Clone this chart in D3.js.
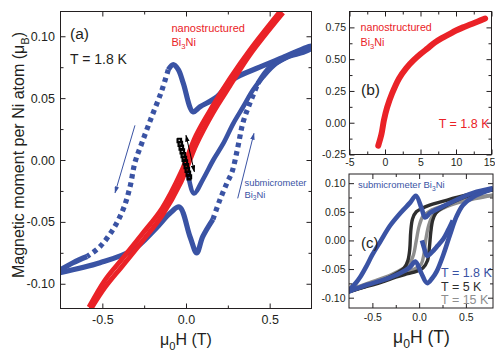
<!DOCTYPE html>
<html>
<head>
<meta charset="utf-8">
<script src="https://cdn.jsdelivr.net/npm/d3@7"></script>
<style>
  body { margin: 0; background: #fff; }
  svg { display: block; }
</style>
</head>
<body>
<div id="chart"></div>
<script>
// (a) submicrometer Bi3Ni at 1.8 K, field in T, moment in muB per Ni
const upperAH = [0.75, 0.72, 0.58, 0.44, 0.28, 0.185, 0.084, 0.042, -0.016, -0.046, -0.076, -0.106, -0.145, -0.205, -0.263, -0.305, -0.335, -0.376, -0.436, -0.514, -0.591, -0.675, -0.753];
const upperAM = [0.092, 0.091, 0.083, 0.075, 0.065, 0.051, 0.043, 0.039, 0.062, 0.073, 0.077, 0.073, 0.056, 0.035, 0.014, -0.002, -0.022, -0.040, -0.056, -0.070, -0.078, -0.083, -0.089];
const lowerAH = [-0.753, -0.514, -0.317, -0.185, -0.096, -0.04, 0.024, 0.064, 0.10, 0.161, 0.203, 0.245, 0.275, 0.31, 0.34, 0.382, 0.43, 0.502, 0.60, 0.70, 0.75];
const lowerAM = [-0.091, -0.083, -0.0726, -0.056, -0.043, -0.038, -0.062, -0.075, -0.062, -0.048, -0.032, -0.0185, -0.0097, 0.0105, 0.030, 0.046, 0.062, 0.075, 0.083, 0.087, 0.090];
const virginAH = [0.0, 0.015, 0.048, 0.10, 0.163, 0.223, 0.283, 0.342, 0.40, 0.46, 0.54, 0.65];
const virginAM = [0.0, -0.014, -0.027, -0.016, 0.0, 0.0134, 0.0296, 0.043, 0.0565, 0.067, 0.078, 0.086];
// nanostructured Bi3Ni, both sweep directions
const redAH = [-0.58, -0.484, -0.382, -0.263, -0.143, -0.03, 0.06, 0.161, 0.263, 0.382, 0.58];
const redUpM = [-0.123, -0.103, -0.086, -0.066, -0.045, -0.018, 0.012, 0.038, 0.060, 0.085, 0.119];
const redDownM = [-0.119, -0.097, -0.080, -0.060, -0.039, -0.010, 0.020, 0.044, 0.066, 0.089, 0.123];
// small black minor loop near zero field
const blackH = [-0.042, -0.036, -0.030, -0.024, -0.018, -0.012, -0.006, 0.0, 0.006, 0.012, 0.018, 0.022, 0.016, 0.010, 0.004, -0.002, -0.008, -0.014, -0.020, -0.026, -0.032, -0.038];
const blackM = [0.0155, 0.0125, 0.0095, 0.0065, 0.0035, 0.0005, -0.0025, -0.0055, -0.0085, -0.0115, -0.0145, -0.0135, -0.0105, -0.0075, -0.0045, -0.0015, 0.0015, 0.0045, 0.0075, 0.0105, 0.0135, 0.0160];
// annotation arrows (data coords)
const arrowDownH = [-0.305, -0.424], arrowDownM = [0.028, -0.0265];
const arrowUpH = [0.309, 0.406], arrowUpM = [-0.031, 0.0215];
const sweepH = [0.0, 0.05], sweepM = [0.020, -0.0095];

// (b) nanostructured Bi3Ni up to 14 T
const bH = [-0.95, -0.5, -0.15, 0.3, 1.0, 2.0, 3.0, 4.0, 5.0, 6.0, 7.0, 8.0, 9.0, 10.0, 11.0, 12.0, 13.0, 14.1];
const bM = [-0.18, -0.09, 0.02, 0.12, 0.23, 0.35, 0.43, 0.49, 0.54, 0.585, 0.63, 0.665, 0.695, 0.725, 0.75, 0.772, 0.795, 0.82];

// (c) submicrometer Bi3Ni at three temperatures
const upperCH = [0.79, 0.578, 0.40, 0.223, 0.117, 0.064, 0.028, -0.035, -0.096, -0.2, -0.31, -0.415, -0.5, -0.57, -0.63, -0.68, -0.76];
const upperCM = [0.0915, 0.083, 0.071, 0.057, 0.048, 0.040, 0.055, 0.078, 0.066, 0.048, 0.026, -0.002, -0.025, -0.047, -0.064, -0.075, -0.088];
const lowerCH = [-0.76, -0.65, -0.556, -0.38, -0.2, -0.1, -0.04, 0.02, 0.085, 0.14, 0.188, 0.259, 0.33, 0.40, 0.47, 0.578, 0.79];
const lowerCM = [-0.090, -0.083, -0.0775, -0.069, -0.057, -0.047, -0.037, -0.056, -0.0745, -0.066, -0.054, -0.025, 0.01, 0.042, 0.062, 0.076, 0.090];
const virginCH = [0.03, 0.055, 0.085, 0.14, 0.2, 0.26, 0.31, 0.36];
const virginCM = [0.0, -0.014, -0.027, -0.020, -0.009, 0.003, 0.018, 0.035];
const upper5H = [0.79, 0.6, 0.4, 0.25, 0.12, 0.03, -0.03, -0.07, -0.09, -0.1, -0.12, -0.16, -0.25, -0.4, -0.55, -0.76];
const upper5M = [0.088, 0.083, 0.075, 0.068, 0.062, 0.056, 0.050, 0.038, 0.015, -0.015, -0.035, -0.048, -0.058, -0.070, -0.079, -0.090];
const lower5H = [-0.76, -0.55, -0.4, -0.25, -0.12, -0.03, 0.04, 0.09, 0.11, 0.125, 0.145, 0.18, 0.26, 0.4, 0.55, 0.79];
const lower5M = [-0.090, -0.080, -0.073, -0.064, -0.058, -0.054, -0.048, -0.035, -0.012, 0.015, 0.035, 0.048, 0.058, 0.070, 0.079, 0.089];
const upper15H = [0.79, 0.6, 0.4, 0.25, 0.12, 0.04, 0.0, -0.03, -0.06, -0.1, -0.18, -0.3, -0.5, -0.76];
const upper15M = [0.079, 0.075, 0.068, 0.060, 0.052, 0.042, 0.025, 0.0, -0.025, -0.040, -0.050, -0.060, -0.072, -0.087];
const lower15H = [-0.76, -0.5, -0.3, -0.15, -0.05, 0.02, 0.05, 0.07, 0.1, 0.14, 0.22, 0.4, 0.6, 0.79];
const lower15M = [-0.087, -0.075, -0.065, -0.057, -0.050, -0.042, -0.025, 0.0, 0.025, 0.042, 0.053, 0.065, 0.073, 0.079];

// ticks
const aXTicks = [-0.5, 0, 0.5], aXLabels = ['-0.5', '0.0', '0.5'], aXMinor = [-0.25, 0.25];
const aYTicks = [-0.10, -0.05, 0, 0.05, 0.10], aYLabels = ['-0.10', '-0.05', '0.00', '0.05', '0.10'];
const aYMinor = [-0.075, -0.025, 0.025, 0.075];
const bXTicks = [-5, 0, 5, 10, 15], bXLabels = ['-5', '0', '5', '10', '15'], bXMinor = [-2.5, 2.5, 7.5, 12.5];
const bYTicks = [-0.25, 0, 0.25, 0.5, 0.75], bYLabels = ['-0.25', '0.00', '0.25', '0.50', '0.75'];
const bYMinor = [-0.125, 0.125, 0.375, 0.625];
const cXTicks = [-0.5, 0, 0.5], cXLabels = ['-0.5', '0.0', '0.5'], cXMinor = [-0.25, 0.25];
const cYTicks = [-0.10, -0.05, 0, 0.05, 0.10], cYLabels = ['-0.10', '-0.05', '0.00', '0.05', '0.10'];
const cYMinor = [-0.075, -0.025, 0.025, 0.075];

const ink = '#231f20';
const blue = '#3a53a4';
const red = '#ea2227';
const dark = '#2e2e2e';
const grey = '#8e8e8e';
const font = "'Liberation Sans', Arial, Helvetica, sans-serif";

const svg = d3.select('#chart').append('svg')
  .attr('width', 495)
  .attr('height', 351)
  .style('font-family', font);
const defs = svg.append('defs');

const xA = d3.scaleLinear().domain([-0.75, 0.75]).range([60.5, 311.5]);
const yA = d3.scaleLinear().domain([-0.12, 0.12]).range([308.5, 11.5]);
const xB = d3.scaleLinear().domain([-5, 15]).range([349.5, 491.5]);
const yB = d3.scaleLinear().domain([-0.25, 0.875]).range([154.5, 11.5]);
const xC = d3.scaleLinear().domain([-0.75, 0.79]).range([349, 493]);
const yC = d3.scaleLinear().domain([-0.118, 0.116]).range([308, 174]);

const pts = (H, M) => H.map((h, i) => [h, M[i]]);
const lineOf = (x, y) => d3.line().x(d => x(d[0])).y(d => y(d[1])).curve(d3.curveCatmullRom);

function marker(id, color) {
  defs.append('marker')
    .attr('id', id)
    .attr('viewBox', '0 0 10 10')
    .attr('refX', 9).attr('refY', 5)
    .attr('markerWidth', 7).attr('markerHeight', 4.5)
    .attr('markerUnits', 'userSpaceOnUse')
    .attr('preserveAspectRatio', 'none')
    .attr('orient', 'auto-start-reverse')
    .append('path')
    .attr('d', 'M0,0 L10,5 L0,10 Z')
    .attr('fill', color);
}
marker('headBlue', blue);
marker('headBlack', '#000');

function clipFor(id, x, y) {
  const [l, r] = x.range(), [b, t] = y.range();
  defs.append('clipPath').attr('id', id)
    .append('rect').attr('x', l).attr('y', t).attr('width', r - l).attr('height', b - t);
  return svg.append('g').attr('clip-path', `url(#${id})`);
}

function axes(x, y, o) {
  const g = svg.append('g');
  const [l, r] = x.range(), [b, t] = y.range();
  const put = (axis, tx, ty) => g.append('g').attr('transform', `translate(${tx},${ty})`).call(axis);
  put(d3.axisBottom(x).tickValues(o.xMinor).tickSize(-3).tickFormat(''), 0, b);
  put(d3.axisTop(x).tickValues(o.xMinor).tickSize(-3).tickFormat(''), 0, t);
  put(d3.axisLeft(y).tickValues(o.yMinor).tickSize(-3).tickFormat(''), l, 0);
  put(d3.axisRight(y).tickValues(o.yMinor).tickSize(-3).tickFormat(''), r, 0);
  put(d3.axisTop(x).tickValues(o.xTicks).tickSize(-5).tickFormat(''), 0, t);
  put(d3.axisRight(y).tickValues(o.yTicks).tickSize(-5).tickFormat(''), r, 0);
  const xb = put(d3.axisBottom(x).tickValues(o.xTicks).tickSize(-5).tickPadding(o.xPad)
    .tickFormat((d, i) => o.xLabels[i]), 0, b);
  put(d3.axisLeft(y).tickValues(o.yTicks).tickSize(-5).tickPadding(o.yPad)
    .tickFormat((d, i) => o.yLabels[i]), l, 0);
  g.selectAll('g').attr('font-family', font).attr('font-size', o.size);
  g.selectAll('.domain').remove();
  g.selectAll('.tick line').attr('stroke', ink);
  g.selectAll('.tick text').attr('fill', ink);
  // last x label sits on the page edge; keep it just inside
  if (o.lastShift) xb.selectAll('.tick text').filter((d, i, n) => i === n.length - 1).attr('dx', o.lastShift);
  g.append('rect')
    .attr('x', l).attr('y', t)
    .attr('width', r - l).attr('height', b - t)
    .attr('fill', 'none')
    .attr('stroke', ink)
    .attr('stroke-width', 1);
}

// text with subscripts: parts are strings, or [string] for a subscript
function label(x, y, parts, size, color, anchor, rotate) {
  const t = svg.append('text')
    .attr('x', x).attr('y', y)
    .attr('font-size', size)
    .attr('fill', color)
    .attr('text-anchor', anchor || 'start');
  if (rotate) t.attr('transform', `rotate(${rotate})`);
  let shift = 0;
  parts.forEach((p) => {
    const isSub = Array.isArray(p);
    const d = isSub ? size * 0.3 : 0;
    t.append('tspan')
      .attr('dy', d - shift)
      .attr('font-size', isSub ? size * 0.7 : size)
      .text(isSub ? p[0] : p);
    shift = d;
  });
  return t;
}

function branch(g, H, M, x, y, color, w, sparse) {
  const p = pts(H, M);
  const gen = lineOf(x, y);
  const pieces = sparse
    ? [[0, sparse[0], false], [sparse[0], sparse[1], true], [sparse[1], p.length - 1, false]]
    : [[0, p.length - 1, false]];
  pieces.forEach(([a, b, dashed]) => {
    g.append('path')
      .datum(p.slice(a, b + 1))
      .attr('d', gen)
      .attr('fill', 'none')
      .attr('stroke', color)
      .attr('stroke-width', w)
      .attr('stroke-linejoin', 'round')
      .attr('stroke-dasharray', dashed ? '4.5,4' : null);
  });
}

function arrow(g, H, M, x, y, color, id, both) {
  g.append('line')
    .attr('x1', x(H[0])).attr('y1', y(M[0]))
    .attr('x2', x(H[1])).attr('y2', y(M[1]))
    .attr('stroke', color)
    .attr('stroke-width', 1)
    .attr('marker-end', `url(#${id})`)
    .attr('marker-start', both ? `url(#${id})` : null);
}

// ---------- panel (a)
const gA = clipFor('clipA', xA, yA);
branch(gA, upperAH, upperAM, xA, yA, blue, 5.2, [11, 20]);
branch(gA, lowerAH, lowerAM, xA, yA, blue, 5.2, [9, 16]);
branch(gA, virginAH, virginAM, xA, yA, blue, 4.6);
branch(gA, redAH, redUpM, xA, yA, red, 4.8);
branch(gA, redAH, redDownM, xA, yA, red, 4.8);
gA.selectAll('.blk')
  .data(pts(blackH, blackM))
  .enter().append('path')
  .attr('class', 'blk')
  .attr('transform', d => `translate(${xA(d[0])},${yA(d[1])})`)
  .attr('d', d3.symbol(d3.symbolSquare, 13))
  .attr('fill', 'none')
  .attr('stroke', '#000')
  .attr('stroke-width', 1.4);
arrow(svg, arrowDownH, arrowDownM, xA, yA, blue, 'headBlue');
arrow(svg, arrowUpH, arrowUpM, xA, yA, blue, 'headBlue');
arrow(svg, sweepH, sweepM, xA, yA, '#000', 'headBlack', true);
axes(xA, yA, {
  xTicks: aXTicks, xLabels: aXLabels, xMinor: aXMinor,
  yTicks: aYTicks, yLabels: aYLabels, yMinor: aYMinor,
  xPad: 6.5, yPad: 5.5, size: 12.5,
});
label(70, 38.5, ['(a)'], 15.5, ink);
label(70, 64, ['T = 1.8 K'], 14, ink);
label(171.5, 31.5, ['nanostructured'], 11, red);
label(171.5, 45.5, ['Bi', ['3'], 'Ni'], 11, red);
label(244.5, 186, ['submicrometer'], 9.4, blue);
label(244.5, 197.5, ['Bi', ['3'], 'Ni'], 9.4, blue);
label(-155, 24, ['Magnetic moment per Ni atom (\u03bc', ['B'], ')'], 16, ink, 'middle', -90);
label(186, 345, ['\u03bc', ['0'], 'H (T)'], 16, ink, 'middle');

// ---------- panel (b)
const gB = clipFor('clipB', xB, yB);
gB.append('path')
  .datum(pts(bH, bM))
  .attr('d', lineOf(xB, yB))
  .attr('fill', 'none')
  .attr('stroke', red)
  .attr('stroke-width', 6)
  .attr('stroke-linecap', 'round');
axes(xB, yB, {
  xTicks: bXTicks, xLabels: bXLabels, xMinor: bXMinor,
  yTicks: bYTicks, yLabels: bYLabels, yMinor: bYMinor,
  xPad: 4.5, yPad: 3.5, size: 10.5, lastShift: -2.5,
});
label(360.5, 31, ['nanostructured'], 10.7, red);
label(360.5, 45.5, ['Bi', ['3'], 'Ni'], 10.7, red);
label(361, 95, ['(b)'], 15.5, ink);
label(489.5, 127.5, ['T = 1.8 K'], 12.5, red, 'end');

// ---------- panel (c)
const gC = clipFor('clipC', xC, yC);
branch(gC, upper15H, upper15M, xC, yC, grey, 3.4);
branch(gC, lower15H, lower15M, xC, yC, grey, 3.4);
branch(gC, upper5H, upper5M, xC, yC, dark, 3.4);
branch(gC, lower5H, lower5M, xC, yC, dark, 3.4);
branch(gC, upperCH, upperCM, xC, yC, blue, 4.6);
branch(gC, lowerCH, lowerCM, xC, yC, blue, 4.6);
branch(gC, virginCH, virginCM, xC, yC, blue, 4.6);
axes(xC, yC, {
  xTicks: cXTicks, xLabels: cXLabels, xMinor: cXMinor,
  yTicks: cYTicks, yLabels: cYLabels, yMinor: cYMinor,
  xPad: 6, yPad: 3.5, size: 10.5,
});
label(358, 188, ['submicrometer Bi', ['3'], 'Ni'], 9.5, blue);
label(361, 248, ['(c)'], 15, ink);
label(441, 277, ['T = 1.8 K'], 12.5, blue);
label(441, 291, ['T = 5 K'], 12.5, dark);
label(441, 304, ['T = 15 K'], 12.5, grey);
label(421.5, 343, ['\u03bc', ['0'], 'H (T)'], 17.5, ink, 'middle');
</script>
</body>
</html>
